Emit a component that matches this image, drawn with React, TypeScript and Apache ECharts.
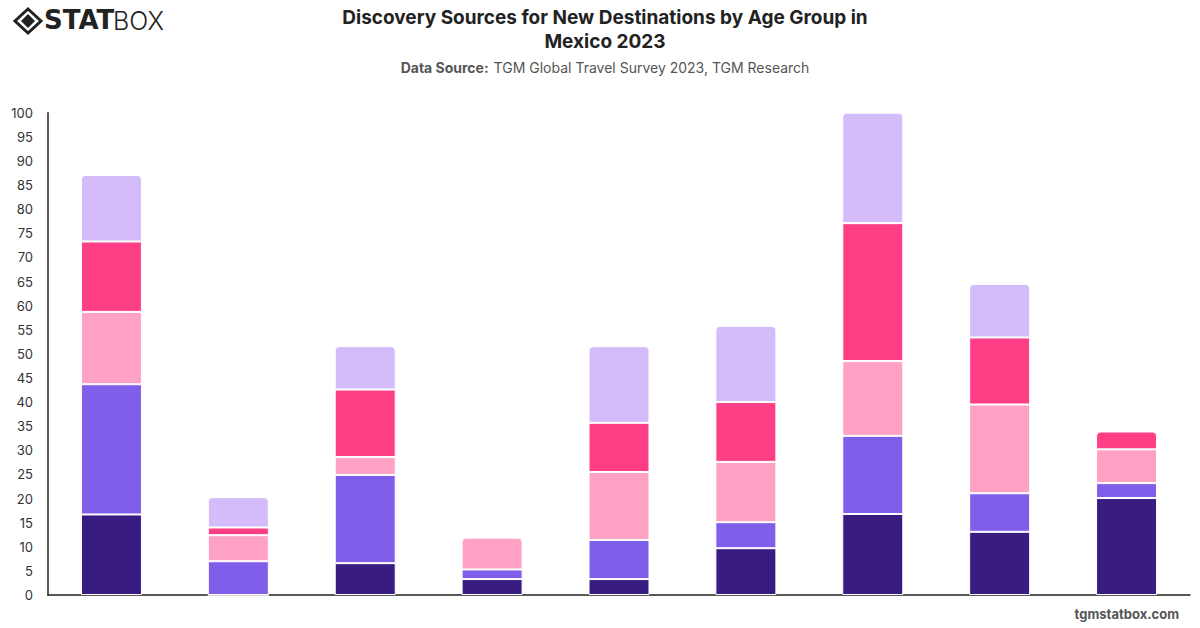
import React, { useEffect, useRef } from "react";
import * as echarts from "echarts";

// Age groups (x axis labels are hidden in this chart)
const categories = ["Group 1", "Group 2", "Group 3", "Group 4", "Group 5", "Group 6", "Group 7", "Group 8", "Group 9"];

// Discovery sources, stacked bottom to top
const seriesNames = ["Source A", "Source B", "Source C", "Source D", "Source E"];
const sourceA = [16.7, 0, 6.6, 3.3, 3.3, 9.7, 16.8, 13.1, 20.1];
const sourceB = [27.0, 7.0, 18.3, 2.0, 8.1, 5.4, 16.2, 8.0, 3.1];
const sourceC = [15.0, 5.4, 3.7, 6.6, 14.1, 12.5, 15.5, 18.4, 7.0];
const sourceD = [14.6, 1.6, 14.0, 0, 10.2, 12.4, 28.6, 13.9, 3.7];
const sourceE = [13.8, 6.3, 9.0, 0, 15.9, 15.8, 22.9, 11.1, 0];

const seriesValues = [sourceA, sourceB, sourceC, sourceD, sourceE];
const colors = ["#391c82", "#7f5eea", "#ffa1c4", "#ff3f85", "#d4bbf9"];

const yTicks = { min: 0, max: 100, interval: 5 };

export default function App() {
  const ref = useRef<HTMLDivElement>(null);

  useEffect(() => {
    if (!ref.current) return;
    const chart = echarts.init(ref.current, null, { renderer: "svg" });

    // index of the topmost non-zero segment in each stack, which gets rounded corners
    const topIndex = categories.map((_, ci) => {
      let idx = -1;
      seriesValues.forEach((vals, si) => {
        if (vals[ci] > 0) idx = si;
      });
      return idx;
    });

    const series = seriesValues.map((vals, si) => ({
      name: seriesNames[si],
      type: "bar",
      stack: "total",
      barWidth: 61,
      data: vals.map((v, ci) => ({
        value: v,
        itemStyle: topIndex[ci] === si ? { borderRadius: [4, 4, 0, 0] } : undefined,
      })),
      itemStyle: {
        color: colors[si],
        borderColor: "#ffffff",
        borderWidth: 1,
      },
    }));

    chart.setOption({
      animation: false,
      backgroundColor: "#ffffff",
      title: [
        {
          text: "Discovery Sources for New Destinations by Age Group in\nMexico 2023",
          left: 600,
          textAlign: "center",
          top: 0,
          textStyle: {
            fontFamily: "Inter",
            fontSize: 19,
            fontWeight: "bold",
            color: "#222222",
            lineHeight: 24,
          },
        },
        {
          text: "{b|Data Source:} {n|TGM Global Travel Survey 2023, TGM Research}",
          left: 600,
          textAlign: "center",
          top: 53,
          textStyle: {
            fontWeight: "normal",
            rich: {
              b: { fontFamily: "Inter", fontSize: 14, fontWeight: "bold", color: "#555555" },
              n: { fontFamily: "Inter", fontSize: 14, fontWeight: "normal", color: "#555555" },
            },
          },
        },
      ],
      grid: { left: 48, right: 10, top: 112.7, bottom: 33, containLabel: false },
      xAxis: {
        type: "category",
        data: categories,
        axisLine: { show: true, lineStyle: { color: "#222222", width: 1.5 } },
        axisTick: { show: false },
        axisLabel: { show: false },
      },
      yAxis: {
        type: "value",
        min: yTicks.min,
        max: yTicks.max,
        interval: yTicks.interval,
        axisLine: { show: true, lineStyle: { color: "#222222", width: 1.5 } },
        axisTick: { show: false },
        splitLine: { show: false },
        axisLabel: {
          fontFamily: "Inter",
          fontSize: 13,
          color: "#333333",
          margin: 15,
        },
      },
      series,
      graphic: [
        // logo mark
        {
          type: "polygon",
          shape: { points: [[28, 9], [41, 21], [28, 33], [15, 21]] },
          style: { fill: "none", stroke: "#222222", lineWidth: 3 },
        },
        {
          type: "polygon",
          shape: { points: [[28, 14], [35, 21], [28, 28], [21, 21]] },
          style: { fill: "#222222" },
        },
        {
          type: "text",
          left: 44,
          top: 7,
          style: {
            text: "STAT",
            fontFamily: "DejaVu Sans",
            fontSize: 26,
            fontWeight: 900,
            fill: "#222222",
          },
        },
        {
          type: "text",
          left: 113,
          top: 8,
          style: {
            text: "BOX",
            fontFamily: "Inter",
            fontSize: 25,
            fontWeight: 300,
            fill: "#222222",
          },
        },
        {
          type: "text",
          right: 21,
          top: 607,
          style: {
            text: "tgmstatbox.com",
            fontFamily: "Inter",
            fontSize: 13,
            fontWeight: "bold",
            fill: "#555555",
          },
        },
      ],
    });

    return () => chart.dispose();
  }, []);

  return (
    <div
      ref={ref}
      style={{ position: "fixed", left: 0, top: 0, width: 1200, height: 628 }}
    />
  );
}
